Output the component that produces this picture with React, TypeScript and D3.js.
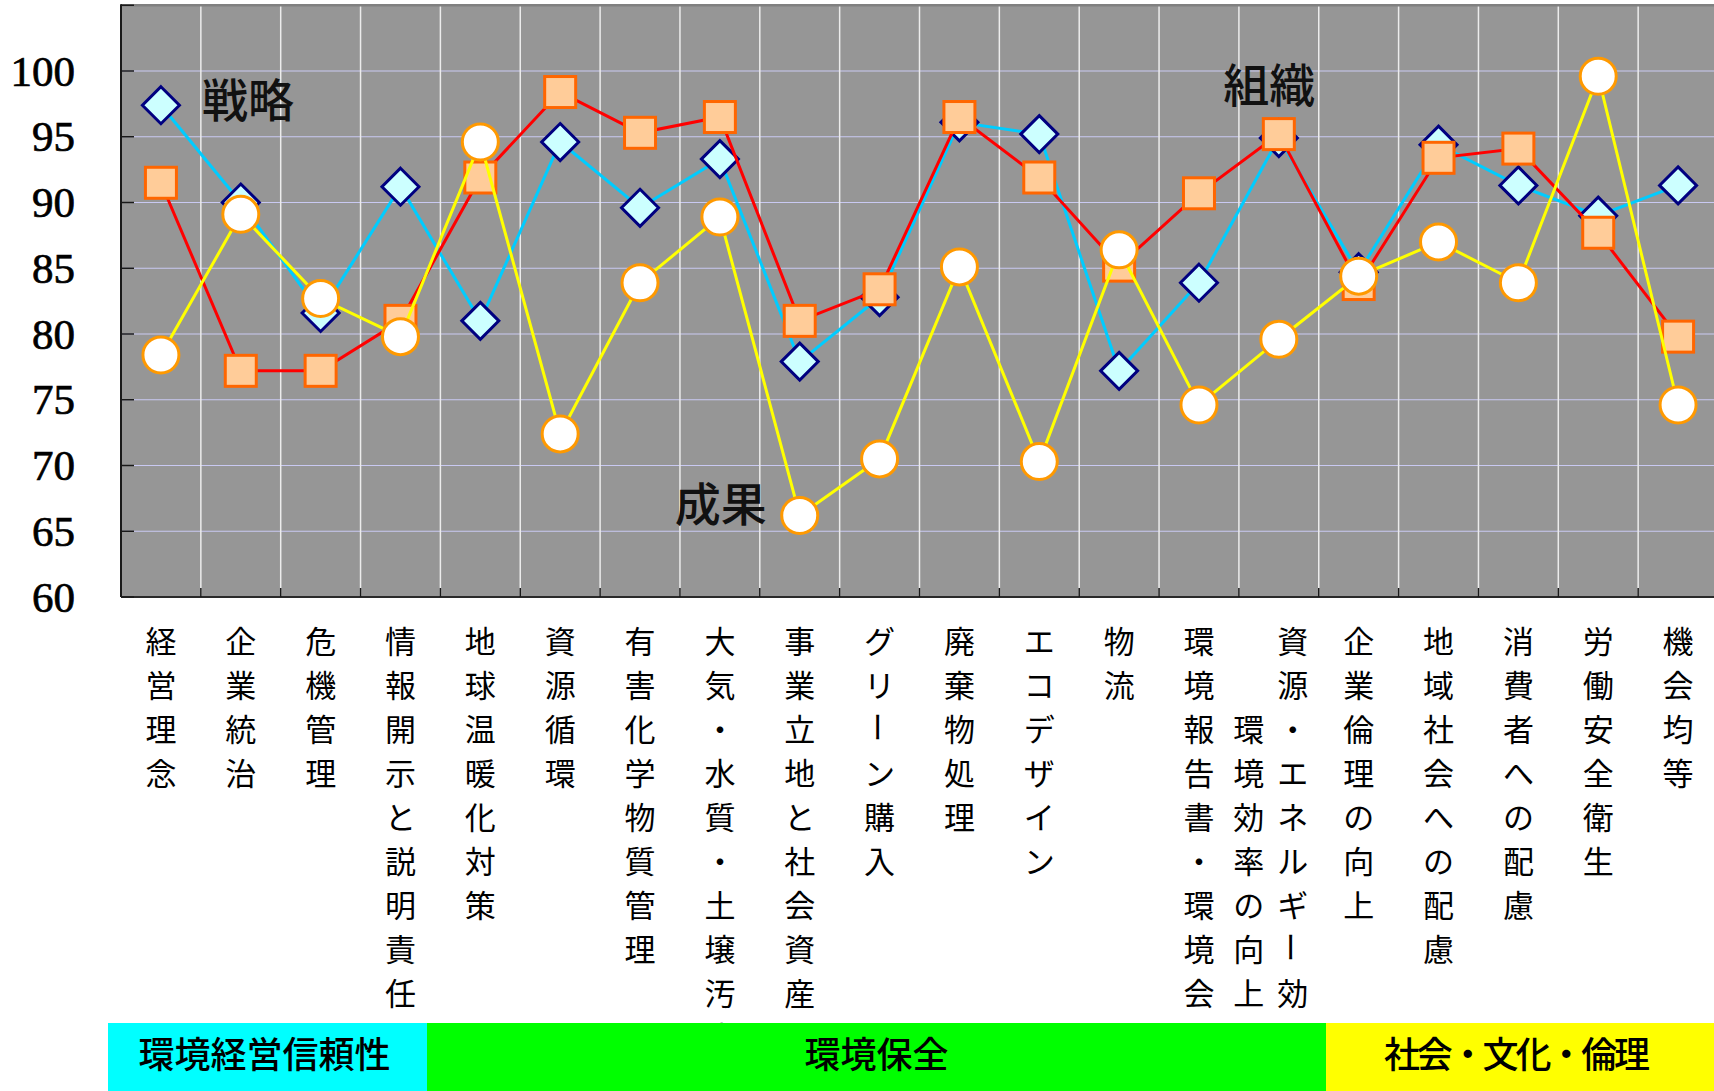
import React from "react";
import * as d3 from "d3";

// Evaluation items (vertical labels; "\n" starts a new column to the left)
const categories: string[] = [
  "経営理念",
  "企業統治",
  "危機管理",
  "情報開示と説明責任",
  "地球温暖化対策",
  "資源循環",
  "有害化学物質管理",
  "大気・水質・土壌汚染",
  "事業立地と社会資産への配慮",
  "グリーン購入",
  "廃棄物処理",
  "エコデザイン",
  "物流",
  "環境報告書・環境会計",
  "資源・エネルギー効率\n　　環境効率の向上",
  "企業倫理の向上",
  "地域社会への配慮",
  "消費者への配慮",
  "労働安全衛生",
  "機会均等",
];

// Scores per series
const strategy: number[] = [97.4, 90.0, 81.6, 91.2, 81.0, 94.6, 89.6, 93.3, 77.9, 82.8, 96.1, 95.2, 77.2, 83.9, 94.9, 84.7, 94.4, 91.3, 89.0, 91.3];
const organization: number[] = [91.5, 77.2, 77.2, 81.0, 91.9, 98.4, 95.3, 96.5, 81.0, 83.4, 96.5, 91.9, 85.2, 90.7, 95.2, 83.8, 93.4, 94.1, 87.7, 79.8];
const outcome: number[] = [78.4, 89.1, 82.7, 79.8, 94.6, 72.4, 83.9, 88.9, 66.2, 70.5, 85.1, 70.3, 86.4, 74.6, 79.6, 84.4, 87.0, 83.9, 99.6, 74.6];

const yTicks: number[] = [60, 65, 70, 75, 80, 85, 90, 95, 100];
const gridTicks: number[] = [65, 70, 75, 80, 85, 90, 95, 100];

// Category groups shown in the bottom band
const groupNames: string[] = ["環境経営信頼性", "環境保全", "社会・文化・倫理"];
const groupColors: string[] = ["#00FFFF", "#00FF00", "#FFFF00"];

// Series names written inside the plot: [text, category position, value]
const seriesNotes: [string, number, number][] = [
  ["戦略", 1.09, 98.0],
  ["成果", 7.01, 67.3],
  ["組織", 13.88, 99.2],
];

const W = 1714;
const H = 1091;
const plotLeft = 121;
const plotRight = 1718;
const plotTop = 5.25;
const plotBottom = 597;
const bandTop = 1023;

const JP = "'Noto Sans CJK JP', 'Noto Sans CJK SC', sans-serif";

export default function App() {
  const x = d3.scaleBand<string>().domain(categories).range([plotLeft, plotRight]).padding(0);
  const y = d3.scaleLinear().domain([60, 105]).range([plotBottom, plotTop]);
  const bw = x.bandwidth();
  const cx = (i: number) => (x(categories[i]) as number) + bw / 2;
  const pos = (p: number) => plotLeft + (p + 0.5) * bw;

  const line = d3
    .line<number>()
    .x((_, i) => cx(i))
    .y((d) => y(d));

  const boundaries = categories.slice(1).map((c) => x(c) as number);

  // band extents for the three groups
  const bandX = [108, 427, 1326, W];

  const diamond = (px: number, py: number, r: number) =>
    `M${px},${py - r}L${px + r},${py}L${px},${py + r}L${px - r},${py}Z`;

  const rowPitch = 44;
  const labelTop = 639;

  return (
    <div>
      <style>{`body{margin:0;background:#fff}`}</style>
      <svg width={W} height={H} style={{ display: "block" }}>
        <defs>
          <clipPath id="labelClip">
            <rect x={0} y={plotBottom} width={W} height={bandTop - plotBottom} />
          </clipPath>
        </defs>

        {/* plot area */}
        <rect x={plotLeft} y={plotTop} width={plotRight - plotLeft} height={plotBottom - plotTop} fill="#969696" />
        {gridTicks.map((t) => (
          <line key={"h" + t} x1={plotLeft} x2={plotRight} y1={y(t)} y2={y(t)} stroke="#c9c9f2" strokeWidth={1.2} />
        ))}
        {boundaries.map((bx, i) => (
          <line key={"v" + i} x1={bx} x2={bx} y1={plotTop} y2={plotBottom} stroke="#ececec" strokeWidth={1.5} />
        ))}
        <line x1={plotLeft} x2={plotRight} y1={plotTop} y2={plotTop} stroke="#808080" strokeWidth={2.5} />
        <line x1={plotLeft} x2={plotLeft} y1={plotTop - 1} y2={plotBottom} stroke="#1a1a1a" strokeWidth={2} />
        <line x1={plotLeft} x2={plotRight} y1={plotBottom} y2={plotBottom} stroke="#2a2a2a" strokeWidth={2} />
        {[...yTicks, 105].map((t) => (
          <line key={"yt" + t} x1={plotLeft} x2={plotLeft + 13} y1={y(t)} y2={y(t)} stroke="#1a1a1a" strokeWidth={1.5} />
        ))}
        {boundaries.map((bx, i) => (
          <line key={"xt" + i} x1={bx} x2={bx} y1={plotBottom} y2={plotBottom - 9} stroke="#1a1a1a" strokeWidth={1.5} />
        ))}

        {/* y axis labels */}
        {yTicks.map((t) => (
          <text
            key={"yl" + t}
            x={75}
            y={y(t)}
            textAnchor="end"
            dominantBaseline="central"
            fontFamily="'Liberation Serif', 'DejaVu Serif', serif"
            fontSize={43}
            fill="#000"
            stroke="#000"
            strokeWidth={0.7}
          >
            {t}
          </text>
        ))}

        {/* series names */}
        {seriesNotes.map(([txt, p, v]) => (
          <text
            key={txt}
            x={pos(p)}
            y={y(v)}
            textAnchor="middle"
            dominantBaseline="central"
            fontFamily={JP}
            fontSize={46}
            fontWeight={500}
            fill="#111"
          >
            {txt}
          </text>
        ))}

        {/* 戦略 */}
        <path d={line(strategy) as string} fill="none" stroke="#00CCFF" strokeWidth={3} />
        {strategy.map((v, i) => (
          <path key={"d" + i} d={diamond(cx(i), y(v), 18.5)} fill="#CCFFFF" stroke="#000080" strokeWidth={3} strokeLinejoin="miter" />
        ))}

        {/* 組織 */}
        <path d={line(organization) as string} fill="none" stroke="#FF0000" strokeWidth={3} />
        {organization.map((v, i) => (
          <rect key={"s" + i} x={cx(i) - 15.5} y={y(v) - 15.5} width={31} height={31} fill="#FFCC99" stroke="#FF6600" strokeWidth={3} />
        ))}

        {/* 成果 */}
        <path d={line(outcome) as string} fill="none" stroke="#FFFF00" strokeWidth={3} />
        {outcome.map((v, i) => (
          <circle key={"c" + i} cx={cx(i)} cy={y(v)} r={18} fill="#FFFFFF" stroke="#FF9900" strokeWidth={3} />
        ))}

        {/* vertical category labels, clipped at the group band */}
        <g clipPath="url(#labelClip)">
          {categories.map((label, i) => {
            const cols = label.split("\n");
            const n = cols.length;
            return cols.map((col, j) => {
              const colX = cx(i) + ((n - 1) / 2 - j) * rowPitch - (n > 1 ? 8 : 0);
              return Array.from(col).map((ch, k) => {
                if (ch === "　") return null;
                const cy = labelTop + k * rowPitch;
                if (cy - 17 > bandTop) return null;
                const rot = ch === "ー" ? `rotate(90 ${colX} ${cy})` : undefined;
                return (
                  <text
                    key={`l${i}-${j}-${k}`}
                    x={colX}
                    y={cy}
                    transform={rot}
                    textAnchor="middle"
                    dominantBaseline="central"
                    fontFamily={JP}
                    fontSize={31}
                    fill="#000"
                  >
                    {ch}
                  </text>
                );
              });
            });
          })}
        </g>

        {/* group band */}
        {groupNames.map((g, i) => (
          <g key={g}>
            <rect x={bandX[i]} y={bandTop} width={bandX[i + 1] - bandX[i]} height={H - bandTop} fill={groupColors[i]} />
            <text
              x={(bandX[i] + bandX[i + 1]) / 2 + (i === 0 ? -3 : i === 2 ? -3 : 0)}
              y={1052}
              textAnchor="middle"
              dominantBaseline="central"
              fontFamily={JP}
              fontSize={36}
              fontWeight={500}
              fill="#000"
              textLength={i === 2 ? 266 : undefined}
              lengthAdjust={i === 2 ? "spacing" : undefined}
            >
              {g}
            </text>
          </g>
        ))}
      </svg>
    </div>
  );
}
